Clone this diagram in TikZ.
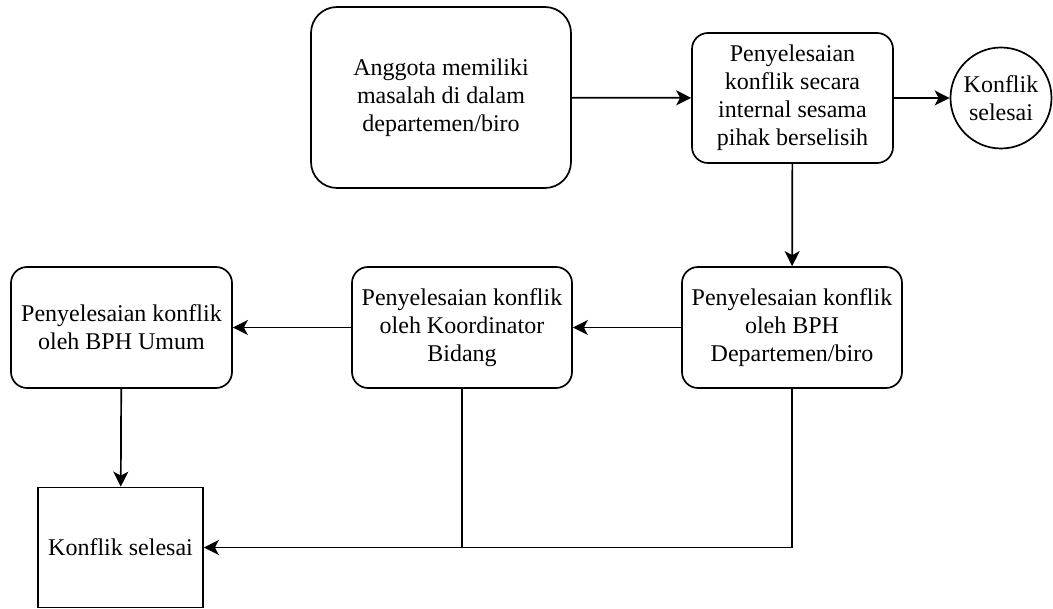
\documentclass[tikz,border=0pt]{standalone}
\usepackage{fontspec}
\setmainfont{Liberation Serif}
\usetikzlibrary{arrows.meta}

\begin{document}
\begin{tikzpicture}[x=1pt, y=-1pt, line width=1.7pt,
  every node/.style={draw, align=center, inner sep=0pt, font=\fontsize{24}{28}\selectfont},
  roundbox/.style={rounded corners=16pt, minimum width=220pt, minimum height=121pt},
  arr/.style={-{Stealth[length=15pt, width=15pt, inset=4pt]}}]
  \useasboundingbox (0,0) rectangle (1053,609);
  \node[roundbox, rounded corners=26pt, minimum width=260pt, minimum height=181pt] (masalah) at (441,97.5) {Anggota memiliki\\masalah di dalam\\departemen/biro};
  \node[roundbox, minimum width=201pt, minimum height=130pt] (internal) at (792.5,98) {Penyelesaian\\konflik secara\\internal sesama\\pihak berselisih};
  \node[circle, minimum size=101pt] (selesai1) at (1001,98) {Konflik\\selesai};
  \node[roundbox] (bphdep) at (792,327.5) {Penyelesaian konflik\\oleh BPH\\Departemen/biro};
  \node[roundbox] (korbid) at (462,327.5) {Penyelesaian konflik\\oleh Koordinator\\Bidang};
  \node[roundbox, minimum width=221pt] (bphumum) at (121.5,327.5) {Penyelesaian konflik\\oleh BPH Umum};
  \node[minimum width=165pt, minimum height=120pt] (selesai2) at (120.5,547.5) {Konflik selesai};
  \coordinate (temu) at (korbid.south |- selesai2.east);
  \draw[arr] (masalah) -- (internal);
  \draw[arr] (internal) -- (selesai1);
  \draw[arr] (internal) -- (bphdep);
  \draw[arr] (bphdep) -- (korbid);
  \draw[arr] (korbid) -- (bphumum);
  \draw[arr] (bphumum) -- (selesai2);
  \draw[arr] (bphdep.south) |- (selesai2.east);
  \draw (korbid.south) -- (temu);
\end{tikzpicture}
\end{document}
